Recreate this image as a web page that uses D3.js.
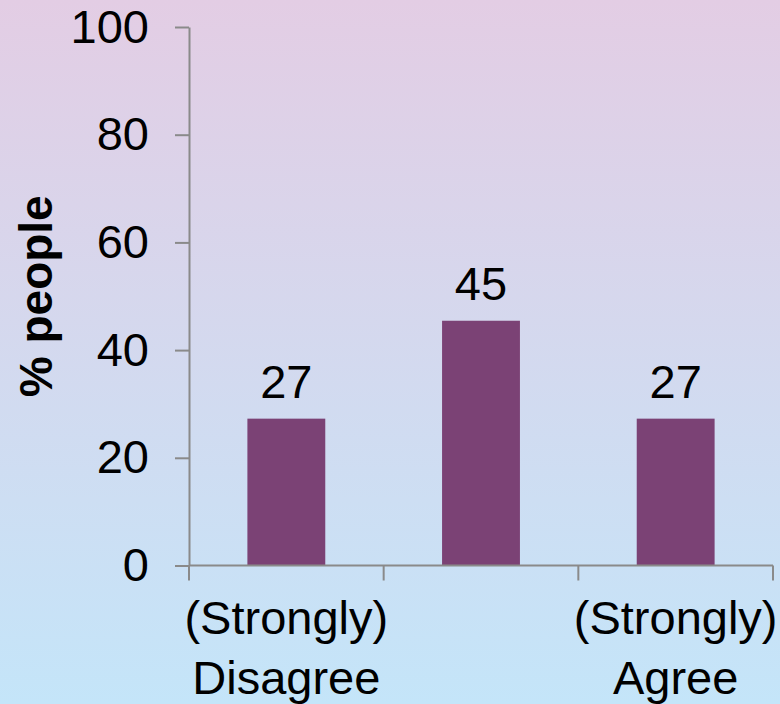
<!DOCTYPE html>
<html>
<head>
<meta charset="utf-8">
<script src="https://cdn.jsdelivr.net/npm/d3@7"></script>
<style>
  html, body { margin: 0; padding: 0; }
  body { width: 780px; height: 704px; overflow: hidden; }
  svg { display: block; }
</style>
</head>
<body>
<script>
const categories = ["(Strongly)\nDisagree", "Neutral", "(Strongly)\nAgree"];
const categoryLabels = [["(Strongly)", "Disagree"], [], ["(Strongly)", "Agree"]];
const values = [27.27, 45.45, 27.27];
const valueLabels = ["27", "45", "27"];
const yTicks = [0, 20, 40, 60, 80, 100];
const yTitle = "% people";

const W = 780, H = 704;
const plotLeft = 189, plotRight = 773, plotTop = 27, plotBottom = 565.5;
const FONT = "'Liberation Sans', Arial, Helvetica, sans-serif";
const FS = 47;
const axisColor = "#8a8a8a";
const barColor = "#7b4275";

const svg = d3.select("body").append("svg").attr("width", W).attr("height", H);

const defs = svg.append("defs");
const grad = defs.append("linearGradient").attr("id", "bg").attr("x1", 0).attr("y1", 0).attr("x2", 0).attr("y2", 1);
grad.append("stop").attr("offset", "0%").attr("stop-color", "#e3cde4");
grad.append("stop").attr("offset", "100%").attr("stop-color", "#c4e5f9");
svg.append("rect").attr("width", W).attr("height", H).attr("fill", "url(#bg)");

const y = d3.scaleLinear().domain([0, 100]).range([plotBottom, plotTop]);
const xb = d3.scaleBand().domain(categories).range([plotLeft, plotRight]).paddingInner(0.6).paddingOuter(0.3);
const xc = d3.scaleBand().domain(categories).range([plotLeft, plotRight]).padding(0);

// bars
svg.append("g").selectAll("rect").data(values).join("rect")
  .attr("x", (d, i) => xb(categories[i]))
  .attr("width", xb.bandwidth())
  .attr("y", d => y(d))
  .attr("height", d => y(0) - y(d))
  .attr("fill", barColor);

// value labels
svg.append("g").selectAll("text").data(values).join("text")
  .attr("x", (d, i) => xb(categories[i]) + xb.bandwidth() / 2)
  .attr("y", d => y(d) - 21)
  .attr("text-anchor", "middle")
  .style("font-family", FONT).style("font-size", FS + "px").attr("fill", "#000")
  .text((d, i) => valueLabels[i]);

// y axis
const yAxis = svg.append("g").attr("transform", `translate(${plotLeft},0)`)
  .call(d3.axisLeft(y).tickValues(yTicks).tickSize(14).tickPadding(26).tickSizeOuter(0));
yAxis.select(".domain").attr("stroke", axisColor).attr("stroke-width", 2);
yAxis.selectAll(".tick line").attr("stroke", axisColor).attr("stroke-width", 2);
yAxis.selectAll(".tick text").style("font-family", FONT).style("font-size", FS + "px").attr("fill", "#000");

// x axis with ticks at category boundaries
const xTickPos = categories.map(c => xc(c)).concat([xc(categories[categories.length - 1]) + xc.bandwidth()]);
const xAxis = svg.append("g").attr("transform", `translate(0,${plotBottom})`);
xAxis.append("line").attr("x1", plotLeft).attr("x2", plotRight).attr("stroke", axisColor).attr("stroke-width", 2);
xAxis.selectAll("line.tk").data(xTickPos).join("line").attr("class", "tk")
  .attr("x1", d => d).attr("x2", d => d).attr("y1", 0).attr("y2", 15)
  .attr("stroke", axisColor).attr("stroke-width", 2);

// x category labels
const lab = svg.append("g");
categoryLabels.forEach((lines, i) => {
  const cx = xc(categories[i]) + xc.bandwidth() / 2;
  lines.forEach((ln, j) => {
    lab.append("text")
      .attr("x", cx).attr("y", 634 + j * 60)
      .attr("text-anchor", "middle")
      .style("font-family", FONT).style("font-size", FS + "px").attr("fill", "#000")
      .text(ln);
  });
});

// y title
svg.append("text")
  .attr("transform", `translate(52,${(plotTop + plotBottom) / 2}) rotate(-90)`)
  .attr("text-anchor", "middle")
  .style("font-family", FONT).style("font-size", "46px").style("font-weight", "bold").attr("fill", "#000")
  .text(yTitle);
</script>
</body>
</html>
